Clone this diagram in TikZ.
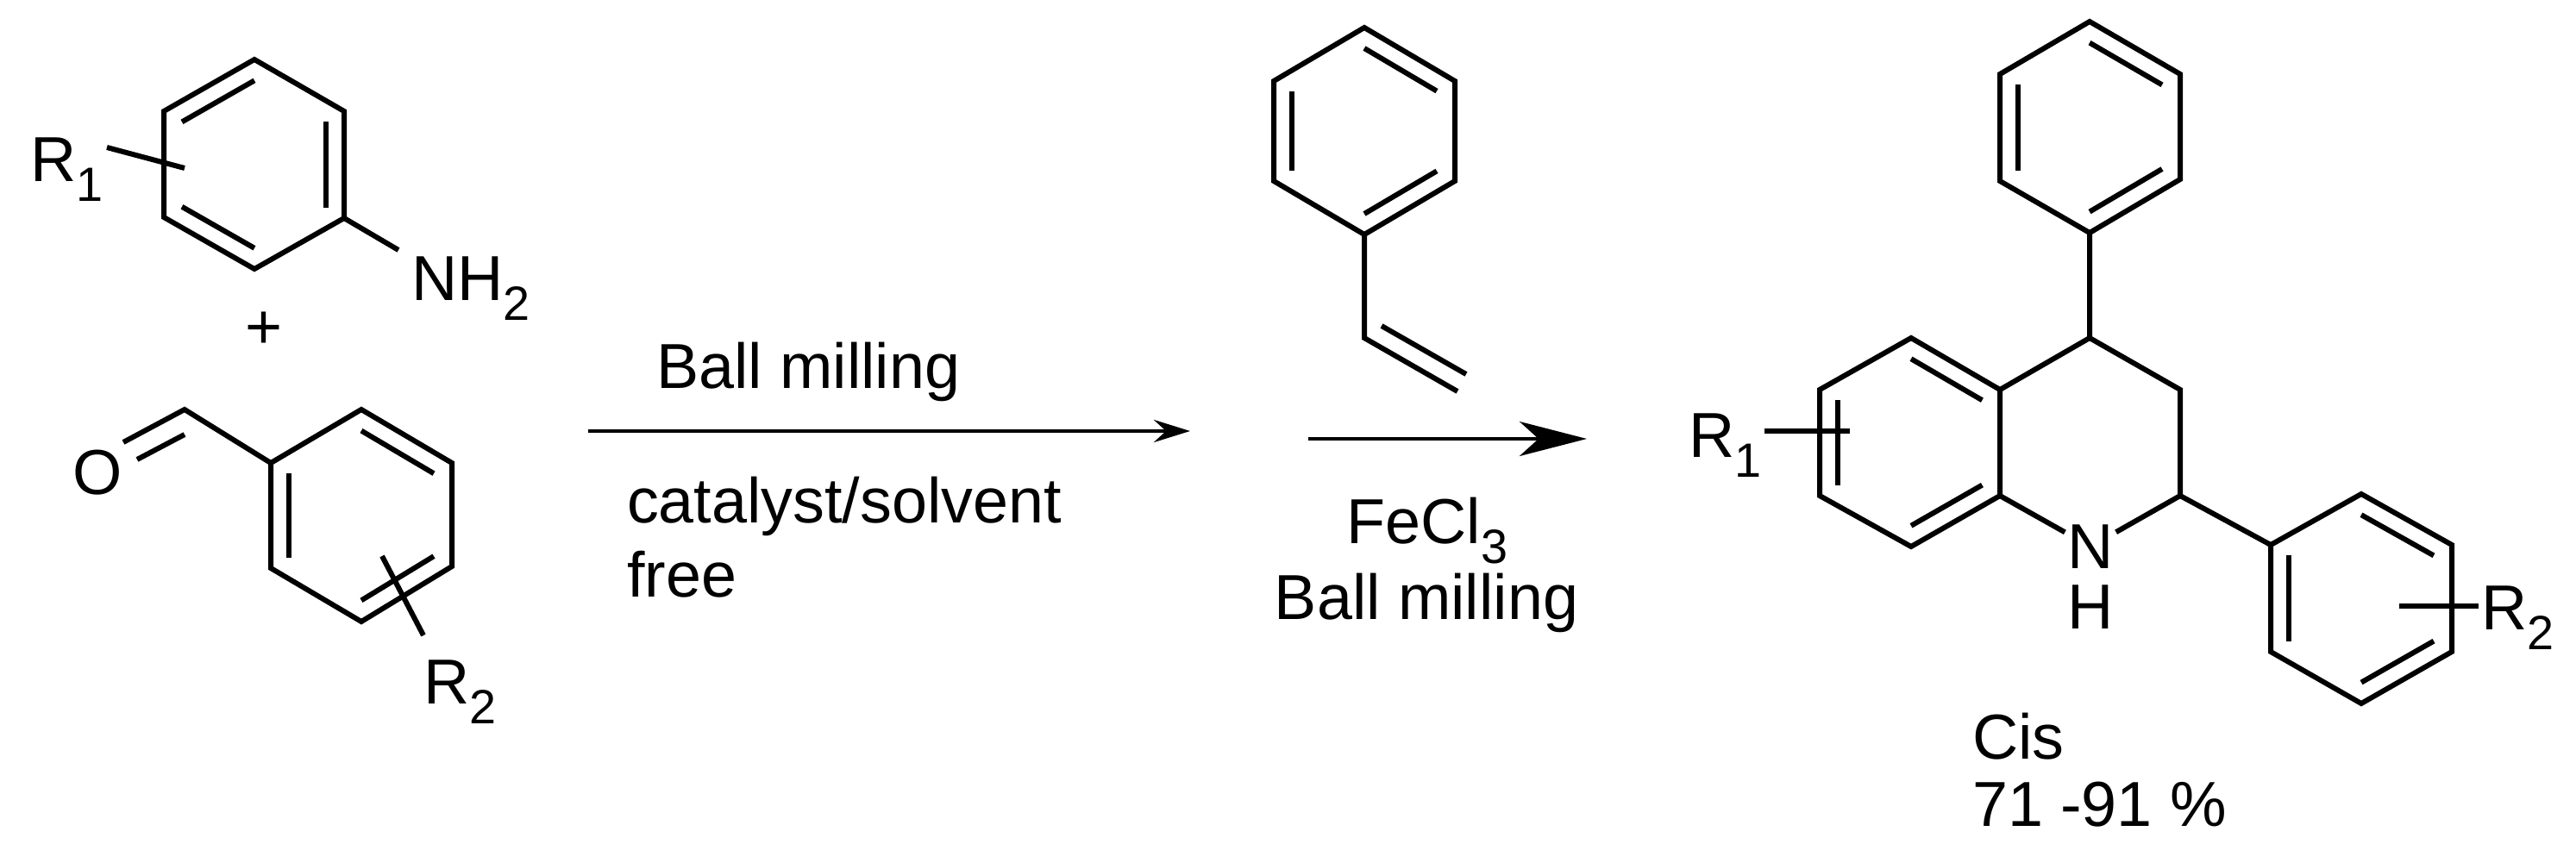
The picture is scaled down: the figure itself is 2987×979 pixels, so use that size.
\documentclass[tikz,border=0pt]{standalone}
\usepackage{fontspec}
\setmainfont{Liberation Sans}
\usetikzlibrary{calc,arrows.meta}
\newcommand{\sub}[1]{\raisebox{-0.32em}{\fontsize{56}{56}\selectfont #1}}
\begin{document}
\begin{tikzpicture}[x=1bp,y=-1bp,line width=6bp,line join=miter,
  lbl/.style={font=\fontsize{74}{88}\selectfont,inner sep=0pt},
  bond/.style={line cap=butt}]
\useasboundingbox (0,0) rectangle (2987,979);
% inner double bond macro
\newcommand{\dbl}[3]{\draw ($(#3)!0.8!(#1)$) -- ($(#3)!0.8!(#2)$);}
% ---- aniline
\coordinate (a1) at (295,69); \coordinate (a2) at (399,129); \coordinate (a3) at (399,253);
\coordinate (a4) at (295,312); \coordinate (a5) at (190,252); \coordinate (a6) at (190,129);
\coordinate (ac) at (295,191);
\draw (a1)--(a2)--(a3)--(a4)--(a5)--(a6)--cycle;
\dbl{a6}{a1}{ac} \dbl{a2}{a3}{ac} \dbl{a4}{a5}{ac}
\coordinate (nb) at (462,290);
\draw (a3)--(nb);
\node[lbl,anchor=base west] (nh2) at (474,348) {NH\sub{2}};
\coordinate (r1e) at (214,195);
\node[lbl,anchor=base west] (r1) at (32,210) {R\sub{1}};
\draw (124,171) -- (r1e);
\node[lbl] (plus) at (306,383) {+};
% ---- benzaldehyde
\coordinate (b1) at (419,475); \coordinate (b2) at (524,537); \coordinate (b3) at (524,657);
\coordinate (b4) at (419,721); \coordinate (b5) at (314,659); \coordinate (b6) at (314,537);
\coordinate (bc) at (419,598);
\draw (b1)--(b2)--(b3)--(b4)--(b5)--(b6)--cycle;
\dbl{b1}{b2}{bc} \dbl{b6}{b5}{bc} \dbl{b3}{b4}{bc}
\coordinate (cho) at (214,475);
\draw (b6)--(cho)--(143,513);
\draw (159,533)--(214,504);
\node[lbl] (o) at (113,548) {O};
\coordinate (r2a) at (443,645); \coordinate (r2b) at (491,737);
\draw (r2a)--(r2b);
\node[lbl,anchor=base west] (r2) at (488,816) {R\sub{2}};
% ---- arrow 1
\coordinate (ar1s) at (682,500); \coordinate (ar1e) at (1380,500);
\draw[line width=4.5bp,-{Stealth[length=42bp,width=26bp,inset=14bp]}] (ar1s)--(ar1e);
\node[lbl,anchor=base west] (t1) at (758,450) {Ball milling};
\node[lbl,anchor=base west,align=left] (t2) at (724,606) {catalyst/solvent};
\node[lbl,anchor=base west] (t3) at (724,692) {free};
% ---- styrene
\coordinate (s1) at (1582,32); \coordinate (s2) at (1687,94); \coordinate (s3) at (1687,210);
\coordinate (s4) at (1582,272); \coordinate (s5) at (1477,210); \coordinate (s6) at (1477,94);
\coordinate (sc) at (1582,152);
\draw (s1)--(s2)--(s3)--(s4)--(s5)--(s6)--cycle;
\dbl{s1}{s2}{sc} \dbl{s3}{s4}{sc} \dbl{s5}{s6}{sc}
\coordinate (v1) at (1582,392); \coordinate (v2) at (1690,454);
\draw (s4)--(v1)--(v2);
\draw (1602,378)--(1700,434);
% ---- arrow 2
\coordinate (ar2s) at (1517,509); \coordinate (ar2e) at (1840,509);
\draw[line width=4.5bp,-{Stealth[length=78bp,width=40bp,inset=22bp]}] (ar2s)--(ar2e);
\node[lbl,anchor=base] (fe) at (1655,630) {FeCl\sub{3}};
\node[lbl,anchor=base] (t4) at (1654,718) {Ball milling};
% ---- product
\coordinate (p1) at (2423,25); \coordinate (p2) at (2528,86); \coordinate (p3) at (2528,208);
\coordinate (p4) at (2423,270); \coordinate (p5) at (2319,210); \coordinate (p6) at (2319,86);
\coordinate (pc) at (2423,148);
\draw (p1)--(p2)--(p3)--(p4)--(p5)--(p6)--cycle;
\dbl{p1}{p2}{pc} \dbl{p3}{p4}{pc} \dbl{p5}{p6}{pc}
\coordinate (c4) at (2423,392); \coordinate (c3) at (2528,452); \coordinate (c2) at (2528,575);
\coordinate (c4a) at (2319,452); \coordinate (c8a) at (2319,575);
\coordinate (c5) at (2216,392); \coordinate (c6) at (2110,452); \coordinate (c7) at (2110,575);
\coordinate (c8) at (2216,634); \coordinate (qc) at (2216,513);
\node[lbl] (n) at (2424,634) {N};
\node[lbl] (h) at (2424,704) {H};
\draw (p4)--(c4)--(c3)--(c2)--(n)--(c8a);
\draw (c4)--(c4a);
\draw (c4a)--(c5)--(c6)--(c7)--(c8)--(c8a)--cycle;
\dbl{c4a}{c5}{qc} \dbl{c6}{c7}{qc} \dbl{c8}{c8a}{qc}
\coordinate (r1p) at (2145,500);
\node[lbl,anchor=base east] (r1b) at (2046,530) {R\sub{1}};
\draw (r1b.east |- r1p) -- (r1p);
\coordinate (q1) at (2633,632); \coordinate (q2) at (2738,573); \coordinate (q3) at (2843,632);
\coordinate (q4) at (2843,756); \coordinate (q5) at (2738,816); \coordinate (q6) at (2633,756);
\coordinate (qq) at (2738,694);
\draw (c2)--(q1);
\draw (q1)--(q2)--(q3)--(q4)--(q5)--(q6)--cycle;
\dbl{q2}{q3}{qq} \dbl{q4}{q5}{qq} \dbl{q6}{q1}{qq}
\coordinate (r2p) at (2782,703);
\node[lbl,anchor=base west] (r2b) at (2874,730) {R\sub{2}};
\draw (r2p) -- (r2b.west |- r2p);
\node[lbl,anchor=base west] (cis) at (2284,880) {Cis};
\node[lbl,anchor=base west] (yld) at (2284,958) {71 -91 \%};
\end{tikzpicture}
\end{document}
